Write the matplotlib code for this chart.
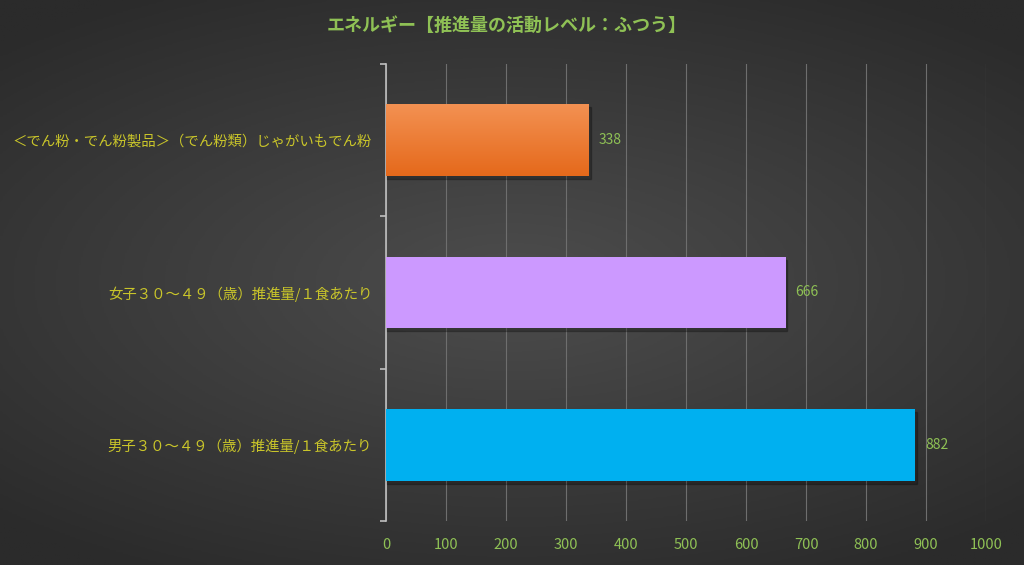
import matplotlib.pyplot as plt
import numpy as np
from matplotlib.colors import LinearSegmentedColormap

plt.rcParams['font.family'] = ['Noto Sans CJK JP', 'DejaVu Sans']

title = 'エネルギー【推進量の活動レベル：ふつう】'
categories = ['＜でん粉・でん粉製品＞（でん粉類）じゃがいもでん粉',
              '女子３０～４９（歳）推進量/１食あたり',
              '男子３０～４９（歳）推進量/１食あたり']
values = [338, 666, 882]
colors = ['#ee7b2e', '#cc99ff', '#00b0f0']
xticks = list(range(0, 1001, 100))

fig = plt.figure(figsize=(10.24, 5.65), dpi=100)

# dark radial background
bg = fig.add_axes([0, 0, 1, 1])
yy, xx = np.mgrid[-1:1:300j, -1:1:600j]
r = np.sqrt((xx * 0.9) ** 2 + (yy * 1.1) ** 2)
bg.imshow(r, cmap=LinearSegmentedColormap.from_list('bg', ['#4d4d4d', '#2b2b2b']),
          aspect='auto', extent=[0, 1, 0, 1], vmin=0, vmax=1.3)
bg.axis('off')

ax = fig.add_axes([0.377, 0.078, 0.586, 0.809])
ax.patch.set_alpha(0)

pos = np.arange(len(categories))
bars = ax.barh(pos, values, height=0.47, color=colors, zorder=3)

# gradient on the orange bar
b = bars[0]
grad = np.linspace(0, 1, 100).reshape(-1, 1)
ax.imshow(grad, cmap=LinearSegmentedColormap.from_list('o', ['#f39152', '#e5691b']),
          aspect='auto', zorder=4,
          extent=[b.get_x(), b.get_x() + b.get_width(), b.get_y() + b.get_height(), b.get_y()])

# soft shadow under bars
for bar in bars:
    sh = plt.Rectangle((bar.get_x(), bar.get_y() + 0.02), bar.get_width() + 3, bar.get_height(),
                       color='black', alpha=0.25, zorder=2)
    ax.add_patch(sh)

for bar, v in zip(bars, values):
    ax.text(v + 16, bar.get_y() + bar.get_height() / 2, str(v), color='#8fc155',
            va='center', ha='left', fontsize=10)

ax.set_xlim(0, 1000)
ax.set_ylim(len(categories) - 0.5, -0.5)
ax.set_xticks(xticks)
ax.set_yticks(pos)
ax.set_yticklabels(categories, color='#c9c52a', fontsize=10.4)
ax.tick_params(axis='y', length=0, pad=10)
ax.tick_params(axis='x', length=0, colors='#8fc155', labelsize=10.5, pad=12)
ax.set_yticks(np.arange(-0.5, len(categories), 1), minor=True)
ax.tick_params(axis='y', which='minor', length=4, color='#bfbfbf', width=1.2)
ax.grid(axis='x', color='#6e6e6e', linewidth=0.8, zorder=0)
for s in ['top', 'right', 'bottom']:
    ax.spines[s].set_visible(False)
ax.spines['left'].set_color('#bfbfbf')
ax.spines['left'].set_linewidth(1.2)

fig.text(0.495, 0.955, title, color='#8fc155', fontsize=13, fontweight='bold',
         ha='center', va='center')

fig.savefig('out.png', dpi=100)
